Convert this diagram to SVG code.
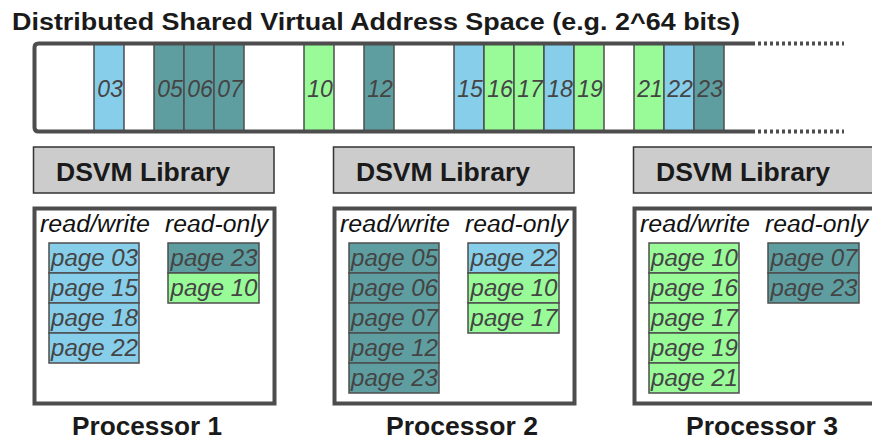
<svg xmlns="http://www.w3.org/2000/svg" width="872" height="439" viewBox="0 0 872 439">
<defs>
<style>
.bl{fill:#87CEEB}.gr{fill:#98FB98}.te{fill:#5F9EA0}
.cell{stroke:#4d4d4d;stroke-width:1.5}
.cl{font-family:"Liberation Sans",Arial,sans-serif;font-style:italic;font-size:23px;fill:#444;text-anchor:middle}
.pg{font-family:"Liberation Sans",Arial,sans-serif;font-style:italic;font-size:23.5px;fill:#444}
.hd{font-family:"Liberation Sans",Arial,sans-serif;font-style:italic;font-size:23px;fill:#111}
.bold{font-family:"Liberation Sans",Arial,sans-serif;font-weight:bold;fill:#1a1a1a}
.lib{fill:#cccccc;stroke:#333;stroke-width:1.5}
.proc{fill:#fff;stroke:#4d4d4d;stroke-width:4}
.frame{fill:none;stroke:#4d4d4d;stroke-width:4}
</style>
</defs>
<rect width="872" height="439" fill="#fff"/>
<text class="bold" x="12" y="30" font-size="23.5" textLength="728" lengthAdjust="spacingAndGlyphs">Distributed Shared Virtual Address Space (e.g. 2^64 bits)</text>
<g id="address-space">
<g class="cell">
<rect class="bl" x="94" y="43.5" width="30" height="88"/>
<rect class="te" x="154" y="43.5" width="30" height="88"/>
<rect class="te" x="184" y="43.5" width="30" height="88"/>
<rect class="te" x="214" y="43.5" width="30" height="88"/>
<rect class="gr" x="304" y="43.5" width="30" height="88"/>
<rect class="te" x="364" y="43.5" width="30" height="88"/>
<rect class="bl" x="454" y="43.5" width="30" height="88"/>
<rect class="gr" x="484" y="43.5" width="30" height="88"/>
<rect class="gr" x="514" y="43.5" width="30" height="88"/>
<rect class="bl" x="544" y="43.5" width="30" height="88"/>
<rect class="gr" x="574" y="43.5" width="30" height="88"/>
<rect class="gr" x="634" y="43.5" width="30" height="88"/>
<rect class="bl" x="664" y="43.5" width="30" height="88"/>
<rect class="te" x="694" y="43.5" width="30" height="88"/>
</g>
<g>
<text class="cl" x="110" y="96.5">03</text>
<text class="cl" x="170" y="96.5">05</text>
<text class="cl" x="200" y="96.5">06</text>
<text class="cl" x="230" y="96.5">07</text>
<text class="cl" x="320" y="96.5">10</text>
<text class="cl" x="380" y="96.5">12</text>
<text class="cl" x="470" y="96.5">15</text>
<text class="cl" x="500" y="96.5">16</text>
<text class="cl" x="530" y="96.5">17</text>
<text class="cl" x="560" y="96.5">18</text>
<text class="cl" x="590" y="96.5">19</text>
<text class="cl" x="650" y="96.5">21</text>
<text class="cl" x="680" y="96.5">22</text>
<text class="cl" x="710" y="96.5">23</text>
</g>
<path class="frame" d="M752,43.5 H38.5 Q34.5,43.5 34.5,47.5 V127.5 Q34.5,131.5 38.5,131.5 H752"/>
<path class="frame" d="M752,43.5 H844 M752,131.5 H844" stroke-dasharray="3 3"/>
</g>
<g id="processor1">
<rect class="lib" x="33.5" y="147" width="240.5" height="46"/>
<text class="bold" x="56" y="181" font-size="26" textLength="174" lengthAdjust="spacingAndGlyphs">DSVM Library</text>
<rect class="proc" x="34.5" y="208.5" width="240" height="195"/>
<text class="hd" x="40" y="232" textLength="110" lengthAdjust="spacingAndGlyphs">read/write</text>
<text class="hd" x="165" y="232" textLength="103" lengthAdjust="spacingAndGlyphs">read-only</text>
<g class="cell">
<rect class="bl" x="49" y="243" width="90" height="30"/>
<rect class="bl" x="49" y="273" width="90" height="30"/>
<rect class="bl" x="49" y="303" width="90" height="30"/>
<rect class="bl" x="49" y="333" width="90" height="30"/>
<rect class="te" x="168" y="243" width="91" height="30"/>
<rect class="gr" x="168" y="273" width="91" height="30"/>
</g>
<text class="pg" x="51" y="266" textLength="87" lengthAdjust="spacingAndGlyphs">page 03</text>
<text class="pg" x="51" y="296" textLength="87" lengthAdjust="spacingAndGlyphs">page 15</text>
<text class="pg" x="51" y="326" textLength="87" lengthAdjust="spacingAndGlyphs">page 18</text>
<text class="pg" x="51" y="356" textLength="87" lengthAdjust="spacingAndGlyphs">page 22</text>
<text class="pg" x="170.5" y="266" textLength="87" lengthAdjust="spacingAndGlyphs">page 23</text>
<text class="pg" x="170.5" y="296" textLength="87" lengthAdjust="spacingAndGlyphs">page 10</text>
<text class="bold" x="72" y="435" font-size="25" textLength="150" lengthAdjust="spacingAndGlyphs">Processor 1</text>
</g>
<g id="processor2" transform="translate(300,0)">
<rect class="lib" x="33.5" y="147" width="240.5" height="46"/>
<text class="bold" x="56" y="181" font-size="26" textLength="174" lengthAdjust="spacingAndGlyphs">DSVM Library</text>
<rect class="proc" x="34.5" y="208.5" width="240" height="195"/>
<text class="hd" x="40" y="232" textLength="110" lengthAdjust="spacingAndGlyphs">read/write</text>
<text class="hd" x="165" y="232" textLength="103" lengthAdjust="spacingAndGlyphs">read-only</text>
<g class="cell">
<rect class="te" x="49" y="243" width="90" height="30"/>
<rect class="te" x="49" y="273" width="90" height="30"/>
<rect class="te" x="49" y="303" width="90" height="30"/>
<rect class="te" x="49" y="333" width="90" height="30"/>
<rect class="te" x="49" y="363" width="90" height="30"/>
<rect class="bl" x="168" y="243" width="91" height="30"/>
<rect class="gr" x="168" y="273" width="91" height="30"/>
<rect class="gr" x="168" y="303" width="91" height="30"/>
</g>
<text class="pg" x="51" y="266" textLength="87" lengthAdjust="spacingAndGlyphs">page 05</text>
<text class="pg" x="51" y="296" textLength="87" lengthAdjust="spacingAndGlyphs">page 06</text>
<text class="pg" x="51" y="326" textLength="87" lengthAdjust="spacingAndGlyphs">page 07</text>
<text class="pg" x="51" y="356" textLength="87" lengthAdjust="spacingAndGlyphs">page 12</text>
<text class="pg" x="51" y="386" textLength="87" lengthAdjust="spacingAndGlyphs">page 23</text>
<text class="pg" x="170.5" y="266" textLength="87" lengthAdjust="spacingAndGlyphs">page 22</text>
<text class="pg" x="170.5" y="296" textLength="87" lengthAdjust="spacingAndGlyphs">page 10</text>
<text class="pg" x="170.5" y="326" textLength="87" lengthAdjust="spacingAndGlyphs">page 17</text>
<text class="bold" x="86" y="435" font-size="25" textLength="152" lengthAdjust="spacingAndGlyphs">Processor 2</text>
</g>
<g id="processor3" transform="translate(600,0)">
<rect class="lib" x="33.5" y="147" width="240.5" height="46"/>
<text class="bold" x="56" y="181" font-size="26" textLength="174" lengthAdjust="spacingAndGlyphs">DSVM Library</text>
<rect class="proc" x="34.5" y="208.5" width="240" height="195"/>
<text class="hd" x="40" y="232" textLength="110" lengthAdjust="spacingAndGlyphs">read/write</text>
<text class="hd" x="165" y="232" textLength="103" lengthAdjust="spacingAndGlyphs">read-only</text>
<g class="cell">
<rect class="gr" x="49" y="243" width="90" height="30"/>
<rect class="gr" x="49" y="273" width="90" height="30"/>
<rect class="gr" x="49" y="303" width="90" height="30"/>
<rect class="gr" x="49" y="333" width="90" height="30"/>
<rect class="gr" x="49" y="363" width="90" height="30"/>
<rect class="te" x="168" y="243" width="91" height="30"/>
<rect class="te" x="168" y="273" width="91" height="30"/>
</g>
<text class="pg" x="51" y="266" textLength="87" lengthAdjust="spacingAndGlyphs">page 10</text>
<text class="pg" x="51" y="296" textLength="87" lengthAdjust="spacingAndGlyphs">page 16</text>
<text class="pg" x="51" y="326" textLength="87" lengthAdjust="spacingAndGlyphs">page 17</text>
<text class="pg" x="51" y="356" textLength="87" lengthAdjust="spacingAndGlyphs">page 19</text>
<text class="pg" x="51" y="386" textLength="87" lengthAdjust="spacingAndGlyphs">page 21</text>
<text class="pg" x="170.5" y="266" textLength="87" lengthAdjust="spacingAndGlyphs">page 07</text>
<text class="pg" x="170.5" y="296" textLength="87" lengthAdjust="spacingAndGlyphs">page 23</text>
<text class="bold" x="86" y="435" font-size="25" textLength="152" lengthAdjust="spacingAndGlyphs">Processor 3</text>
</g>
<g id="connectors"/>
</svg>
